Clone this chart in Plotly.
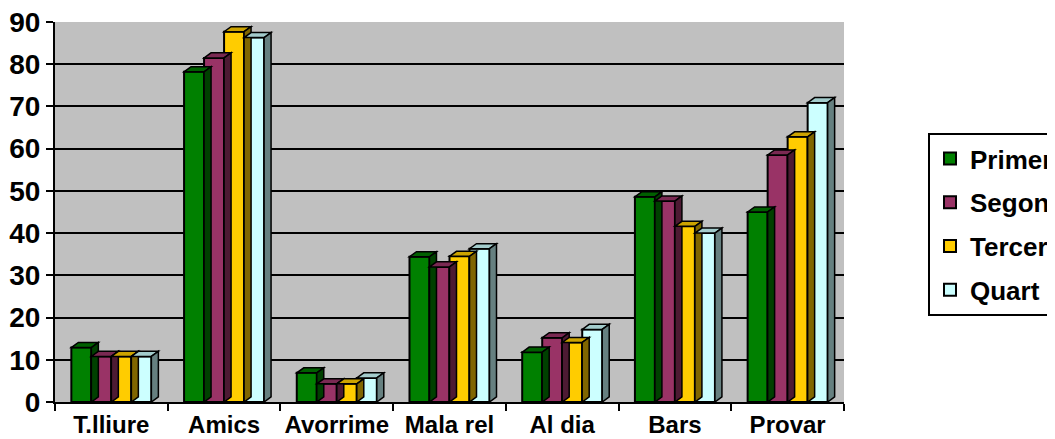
import plotly.graph_objects as go

categories = ["T.lliure", "Amics", "Avorrime", "Mala rel", "Al dia", "Bars", "Provar"]
series_names = ["Primer", "Segon", "Tercer", "Quart"]
primer = [12.9, 78.2, 6.9, 34.4, 11.8, 48.6, 45.0]
segon = [10.8, 81.5, 4.3, 32.0, 15.2, 47.6, 58.5]
tercer = [10.8, 87.7, 4.3, 34.5, 14.1, 41.6, 62.8]
quart = [10.8, 86.3, 5.7, 36.3, 17.2, 40.0, 70.9]
y_ticks = [0, 10, 20, 30, 40, 50, 60, 70, 80, 90]

series_values = [primer, segon, tercer, quart]
front_colors = ["#008000", "#993366", "#FFCC00", "#CCFFFF"]
top_colors = ["#006000", "#7a2952", "#cca300", "#a3cccc"]
side_colors = ["#004000", "#4d1a33", "#806600", "#668080"]

bargap = 0.29
n = len(series_values)
bw = (1 - bargap) / n
dx = 0.062   # depth in x data units
dy = 1.2     # depth in y data units

fig = go.Figure()
shapes = []
for i, (name, vals) in enumerate(zip(series_names, series_values)):
    fig.add_trace(go.Bar(
        x=categories, y=vals, name=name,
        marker=dict(color=front_colors[i], line=dict(color="black", width=2)),
        legendgroup=name,
    ))
    for k, v in enumerate(vals):
        x0 = k - (1 - bargap) / 2 + i * bw
        x1 = x0 + bw
        shapes.append(dict(
            type="path", xref="x", yref="y",
            path=f"M {x0},{v} L {x1},{v} L {x1+dx},{v+dy} L {x0+dx},{v+dy} Z",
            fillcolor=top_colors[i], line=dict(color="black", width=1.5), layer="above"))
        shapes.append(dict(
            type="path", xref="x", yref="y",
            path=f"M {x1},0 L {x1},{v} L {x1+dx},{v+dy} L {x1+dx},{dy} Z",
            fillcolor=side_colors[i], line=dict(color="black", width=1.5), layer="above"))

font_family = "Liberation Sans, Arial, sans-serif"

# page body has an 8px margin, so the canvas is sized/offset to compensate
W, H = 1047, 431

fig.update_layout(
    width=W, height=H,
    margin=dict(l=47, r=211, t=14, b=37, autoexpand=False),
    paper_bgcolor="white",
    plot_bgcolor="#C0C0C0",
    barmode="group",
    bargap=bargap,
    bargroupgap=0,
    shapes=shapes,
    showlegend=True,
    legend=dict(
        xref="container", yref="container",
        x=920 / W, y=1 - 125 / H, xanchor="left", yanchor="top",
        bgcolor="white", bordercolor="black", borderwidth=2,
        font=dict(family=font_family, size=26, color="black", weight="bold"),
        tracegroupgap=7,
        itemwidth=30,
    ),
    xaxis=dict(
        type="category",
        tickson="boundaries",
        tickangle=0,
        ticks="outside", ticklen=7, tickwidth=2, tickcolor="black",
        showline=True, linecolor="black", linewidth=2,
        showgrid=False, automargin=False,
        ticklabeloverflow="allow",
        tickfont=dict(family=font_family, size=24, color="black", weight="bold"),
        range=[-0.5, 6.5],
    ),
    yaxis=dict(
        range=[0, 90],
        tickvals=y_ticks,
        ticks="outside", ticklen=7, tickwidth=2, tickcolor="black",
        showline=True, linecolor="black", linewidth=2,
        showgrid=True, gridcolor="black", gridwidth=2,
        zeroline=False, automargin=False,
        ticklabeloverflow="allow",
        tickfont=dict(family=font_family, size=28, color="black", weight="bold"),
    ),
)

fig.write_html("out.html")
